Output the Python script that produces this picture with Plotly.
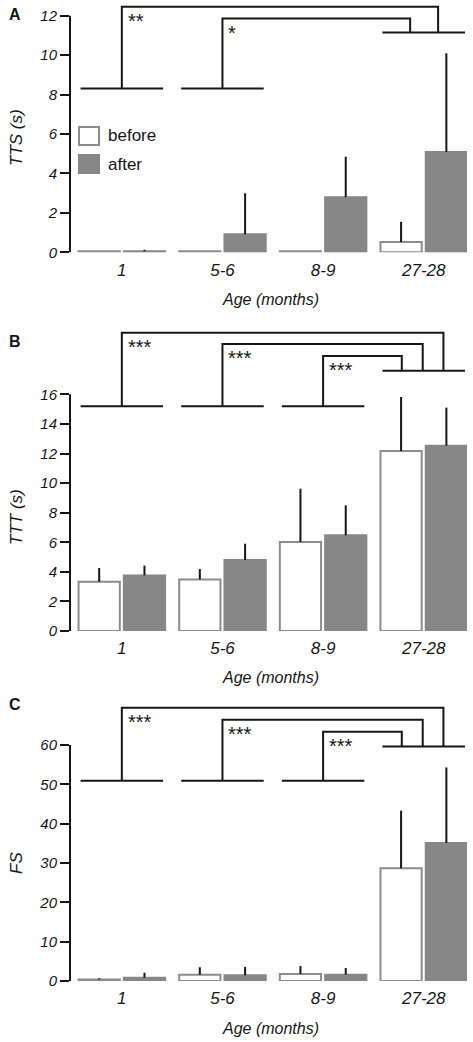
import plotly.graph_objects as go
from plotly.subplots import make_subplots

# ---------------- data ----------------
categories = ["1", "5-6", "8-9", "27-28"]

tts_before = [0.05, 0.05, 0.05, 0.52]
tts_before_err = [0.0, 0.0, 0.0, 1.03]
tts_after = [0.05, 0.91, 2.79, 5.09]
tts_after_err = [0.08, 2.08, 2.06, 5.0]

ttt_before = [3.33, 3.49, 6.02, 12.17]
ttt_before_err = [0.93, 0.70, 3.60, 3.65]
ttt_after = [3.76, 4.80, 6.47, 12.53]
ttt_after_err = [0.66, 1.10, 2.03, 2.57]

fs_before = [0.4, 1.6, 1.8, 28.65]
fs_before_err = [0.3, 1.9, 2.0, 14.65]
fs_after = [0.85, 1.45, 1.6, 35.1]
fs_after_err = [1.25, 2.15, 1.7, 19.2]

tts_ticks = [0, 2, 4, 6, 8, 10, 12]
ttt_ticks = [0, 2, 4, 6, 8, 10, 12, 14, 16]
fs_ticks = [0, 10, 20, 30, 40, 50, 60]

tts_sig = ["**", "*"]
ttt_sig = ["***", "***", "***"]
fs_sig = ["***", "***", "***"]

# ---------------- style / layout ----------------
W, H = 473, 1042
FONT = "Liberation Sans, Arial, sans-serif"
INK = "#161616"
GRAY_FILL = "#878787"
GRAY_LINE = "#8c8c8c"
x_idx = list(range(len(categories)))

def px_x(p):
    return p / W

def px_y(p):
    return 1 - p / H

panels = [
    dict(before=tts_before, be=tts_before_err, after=tts_after, ae=tts_after_err,
         ticks=tts_ticks, ytitle="TTS (s)", letter="A",
         bottom=252.3, top=2.0, ppu=19.72,
         title_y=138, xtitle_y=299, letter_y=15,
         group_level=8.3, groups=[0, 1], right_level=11.14,
         brackets=[(0, 12.45, 0.143), (1, 11.85, -0.135)], sig=tts_sig),
    dict(before=ttt_before, be=ttt_before_err, after=ttt_after, ae=ttt_after_err,
         ticks=ttt_ticks, ytitle="TTT (s)", letter="B",
         bottom=631.0, top=328.0, ppu=14.79,
         title_y=517, xtitle_y=677, letter_y=341,
         group_level=15.2, groups=[0, 1, 2], right_level=17.6,
         brackets=[(0, 20.17, 0.196), (1, 19.4, -0.01), (2, 18.59, -0.218)], sig=ttt_sig),
    dict(before=fs_before, be=fs_before_err, after=fs_after, ae=fs_after_err,
         ticks=fs_ticks, ytitle="FS", letter="C",
         bottom=981.0, top=703.0, ppu=3.933,
         title_y=863, xtitle_y=1028, letter_y=704,
         group_level=50.9, groups=[0, 1, 2], right_level=59.6,
         brackets=[(0, 69.5, 0.196), (1, 66.4, -0.01), (2, 63.4, -0.218)], sig=fs_sig),
]

fig = make_subplots(rows=3, cols=1)

BAR_W = 0.41
shapes = []
annotations = []

for i, p in enumerate(panels, start=1):
    xa = "x" if i == 1 else f"x{i}"
    ya = "y" if i == 1 else f"y{i}"
    fig.add_trace(go.Bar(
        x=x_idx, y=p["before"], width=BAR_W, offset=-0.43,
        marker=dict(color="white", line=dict(color=GRAY_LINE, width=2)),
        error_y=dict(type="data", symmetric=False, array=p["be"],
                     arrayminus=[0] * 4, width=0, thickness=2, color=INK),
        showlegend=False, name="before"), row=i, col=1)
    fig.add_trace(go.Bar(
        x=x_idx, y=p["after"], width=BAR_W, offset=0.02,
        marker=dict(color=GRAY_FILL, line=dict(color=GRAY_FILL, width=2)),
        error_y=dict(type="data", symmetric=False, array=p["ae"],
                     arrayminus=[0] * 4, width=0, thickness=2, color=INK),
        showlegend=False, name="after"), row=i, col=1)

    yr = (p["bottom"] - p["top"]) / p["ppu"]
    fig.update_yaxes(row=i, col=1, range=[0, yr],
                     domain=[px_y(p["bottom"]), px_y(p["top"])],
                     tickvals=p["ticks"], ticks="outside", ticklen=9, tickwidth=2,
                     tickcolor=INK, showline=False, showgrid=False, zeroline=False,
                     tickfont=dict(family=FONT, size=15, color=INK, style="italic"))
    fig.update_xaxes(row=i, col=1, range=[-0.515, 3.43],
                     domain=[px_x(70), px_x(467)],
                     tickvals=x_idx, ticktext=categories, ticks="outside",
                     ticklen=2, tickcolor="rgba(0,0,0,0)",
                     showline=False, showgrid=False, zeroline=False,
                     tickfont=dict(family=FONT, size=17, color=INK, style="italic"))

    # y axis line (only up to the last tick)
    shapes.append(dict(type="line", xref=f"{xa} domain", yref=ya, x0=0, x1=0,
                       y0=0, y1=p["ticks"][-1], line=dict(color=INK, width=2)))
    # significance brackets
    for g in p["groups"]:
        shapes.append(dict(type="line", xref=xa, yref=ya, x0=g - 0.41, x1=g + 0.41,
                           y0=p["group_level"], y1=p["group_level"],
                           line=dict(color=INK, width=2)))
    shapes.append(dict(type="line", xref=xa, yref=ya, x0=3 - 0.41, x1=3 + 0.41,
                       y0=p["right_level"], y1=p["right_level"],
                       line=dict(color=INK, width=2)))
    for (g, lvl, land), star in zip(p["brackets"], p["sig"]):
        shapes.append(dict(type="path", xref=xa, yref=ya,
                           path=f"M {g},{p['group_level']} L {g},{lvl} L {3 + land},{lvl} L {3 + land},{p['right_level']}",
                           line=dict(color=INK, width=2)))
        annotations.append(dict(xref=xa, yref=ya, x=g, y=lvl, text=star,
                                xanchor="left", yanchor="top", xshift=4, yshift=-1,
                                showarrow=False,
                                font=dict(family=FONT, size=20, color=INK)))
    # titles
    annotations.append(dict(xref="paper", yref="paper", x=px_x(16), y=px_y(p["title_y"]),
                            text=p["ytitle"], textangle=-90, showarrow=False,
                            xanchor="center", yanchor="middle",
                            font=dict(family=FONT, size=17, color=INK, style="italic")))
    annotations.append(dict(xref="paper", yref="paper", x=px_x(270), y=px_y(p["xtitle_y"]),
                            text="Age (months)", showarrow=False,
                            xanchor="center", yanchor="middle",
                            font=dict(family=FONT, size=16, color=INK, style="italic")))
    annotations.append(dict(xref="paper", yref="paper", x=px_x(7), y=px_y(p["letter_y"]),
                            text=f"<b>{p['letter']}</b>", showarrow=False,
                            xanchor="left", yanchor="middle",
                            font=dict(family=FONT, size=16, color=INK)))

# manual legend in panel A
shapes.append(dict(type="rect", xref="paper", yref="paper",
                   x0=px_x(79), x1=px_x(99), y0=px_y(145), y1=px_y(127),
                   fillcolor="white", line=dict(color=GRAY_LINE, width=2)))
shapes.append(dict(type="rect", xref="paper", yref="paper",
                   x0=px_x(78), x1=px_x(100), y0=px_y(174), y1=px_y(154),
                   fillcolor=GRAY_FILL, line=dict(width=0)))
annotations.append(dict(xref="paper", yref="paper", x=px_x(106), y=px_y(136),
                        text="before", showarrow=False, xanchor="left", yanchor="middle",
                        font=dict(family=FONT, size=17, color=INK)))
annotations.append(dict(xref="paper", yref="paper", x=px_x(106), y=px_y(164),
                        text="after", showarrow=False, xanchor="left", yanchor="middle",
                        font=dict(family=FONT, size=17, color=INK)))

fig.update_layout(width=W, height=H, margin=dict(l=0, r=0, t=0, b=0, autoexpand=False),
                  paper_bgcolor="white", plot_bgcolor="white",
                  barmode="overlay", showlegend=False,
                  shapes=shapes, annotations=annotations,
                  font=dict(family=FONT, color=INK))

fig.write_html("out.html", config={"displayModeBar": False},
               post_script="document.body.style.margin='0';document.body.style.padding='0';")
